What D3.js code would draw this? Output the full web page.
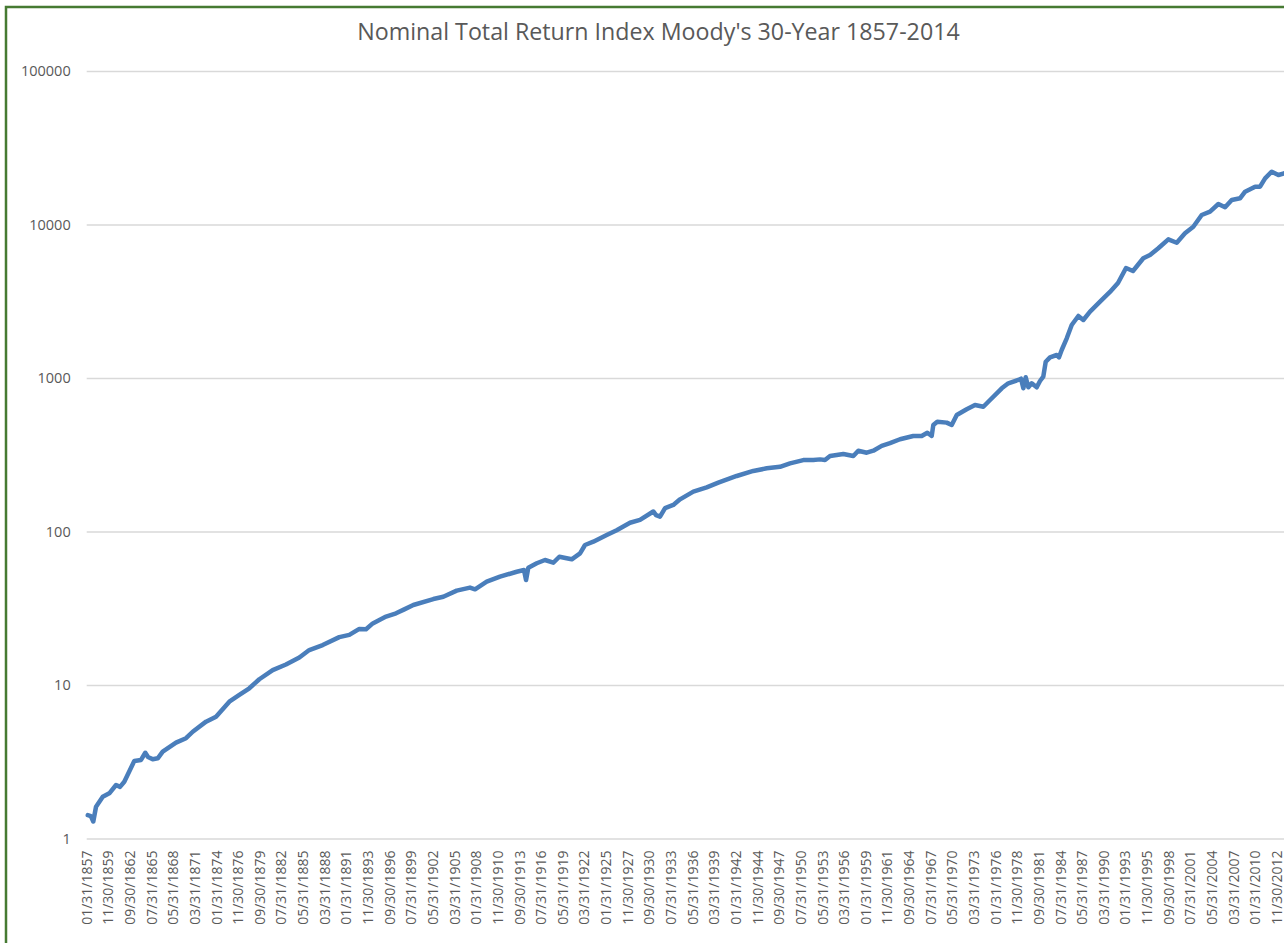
<!DOCTYPE html>
<html>
<head>
<meta charset="utf-8">
<script src="https://cdn.jsdelivr.net/npm/d3@7"></script>
<style>
  body { margin: 0; background: #fff; overflow: hidden; }
  text { font-family: "Open Sans", "DejaVu Sans", sans-serif; fill: #595959; }
</style>
</head>
<body>
<svg class="chart" width="1284" height="943"></svg>
<script>
const title = "Nominal Total Return Index Moody's 30-Year 1857-2014"

// decimal year of each read point, and the index value there
const years = [
  1857.1, 1857.5, 1857.82, 1858.18, 1859.06, 1859.92, 1860.8, 1861.32, 1861.88, 1863.19,
  1864.07, 1864.63, 1864.99, 1865.6, 1866.26, 1866.91, 1868.65, 1869.96, 1870.84, 1872.58,
  1873.89, 1875.63, 1876.94, 1878.25, 1879.56, 1881.31, 1883.05, 1884.8, 1886.1, 1887.86,
  1890.03, 1891.34, 1892.65, 1893.53, 1894.41, 1896.15, 1897.46, 1898.54, 1899.72, 1902.34,
  1903.65, 1905.4, 1907.14, 1907.8, 1909.33, 1911.07, 1913.26, 1914.21, 1914.48, 1914.78,
  1915.88, 1916.96, 1918.05, 1918.84, 1919.8, 1920.46, 1921.55, 1922.2, 1923.29, 1925.04,
  1926.35, 1928.09, 1929.4, 1931.14, 1931.5, 1932.02, 1932.68, 1933.76, 1934.64, 1936.38,
  1938.13, 1939.65, 1942.06, 1944.23, 1945.99, 1947.73, 1949.04, 1950.78, 1952.09, 1952.97,
  1953.62, 1954.28, 1956.02, 1957.33, 1957.98, 1959.08, 1959.95, 1961.04, 1962.13, 1963.44,
  1965.18, 1966.28, 1967.02, 1967.59, 1967.8, 1968.32, 1969.55, 1970.21, 1970.87, 1972.17,
  1973.26, 1974.35, 1975.23, 1976.76, 1977.62, 1978.93, 1979.28, 1979.59, 1979.9, 1980.24,
  1980.68, 1981.34, 1981.77, 1982.2, 1982.52, 1983.08, 1983.96, 1984.26, 1984.61, 1985.27,
  1985.92, 1986.79, 1987.44, 1988.32, 1989.63, 1990.93, 1991.98, 1993.03, 1993.94, 1995.29,
  1996.17, 1997.26, 1998.57, 1999.67, 2000.75, 2001.84, 2002.94, 2004.03, 2005.12, 2006.0,
  2006.87, 2007.96, 2008.62, 2009.93, 2010.58, 2011.24, 2012.11, 2012.98, 2013.72, 2014.9
]
const values = [
  1.42, 1.40, 1.29, 1.61, 1.87, 1.97, 2.23, 2.17, 2.34, 3.20,
  3.25, 3.62, 3.40, 3.28, 3.33, 3.68, 4.21, 4.50, 4.96, 5.77,
  6.22, 7.79, 8.61, 9.52, 10.9, 12.5, 13.6, 15.1, 16.9, 18.2,
  20.5, 21.2, 23.2, 23.1, 25.2, 27.9, 29.3, 31.1, 33.2, 36.3,
  37.6, 41.2, 43.1, 42.0, 47.1, 50.8, 54.7, 56.1, 48.3, 58.1,
  62.1, 65.2, 62.6, 68.5, 66.9, 65.9, 72.1, 81.7, 85.8, 94.9,
  102, 114, 119, 135, 128, 125, 142, 149, 162, 182,
  194, 208, 230, 248, 258, 264, 278, 292, 292, 295,
  292, 310, 320, 310, 336, 326, 336, 361, 376, 399,
  419, 419, 440, 419, 494, 519, 512, 494, 574, 626,
  667, 650, 719, 857, 924, 971, 990, 857, 1011, 870,
  924, 870, 956, 1020, 1277, 1364, 1412, 1364, 1522, 1814,
  2215, 2535, 2388, 2704, 3141, 3634, 4158, 5208, 4979, 6024,
  6328, 6998, 8007, 7609, 8762, 9676, 11533, 12120, 13603, 12946,
  14440, 14815, 16358, 17634, 17634, 19999, 22080, 21015, 21560, 22300
]

const yTicks = [1, 10, 100, 1000, 10000, 100000]

const tickLabels = [
  "01/31/1857", "11/30/1859", "09/30/1862", "07/31/1865", "05/31/1868", "03/31/1871", "01/31/1874",
  "11/30/1876", "09/30/1879", "07/31/1882", "05/31/1885", "03/31/1888", "01/31/1891", "11/30/1893",
  "09/30/1896", "07/31/1899", "05/31/1902", "03/31/1905", "01/31/1908", "11/30/1910", "09/30/1913",
  "07/31/1916", "05/31/1919", "03/31/1922", "01/31/1925", "11/30/1927", "09/30/1930", "07/31/1933",
  "05/31/1936", "03/31/1939", "01/31/1942", "11/30/1944", "09/30/1947", "07/31/1950", "05/31/1953",
  "03/31/1956", "01/31/1959", "11/30/1961", "09/30/1964", "07/31/1967", "05/31/1970", "03/31/1973",
  "01/31/1976", "11/30/1978", "09/30/1981", "07/31/1984", "05/31/1987", "03/31/1990", "01/31/1993",
  "11/30/1995", "09/30/1998", "07/31/2001", "05/31/2004", "03/31/2007", "01/31/2010", "11/30/2012"
]

// month index from Jan 1857
const monthOf = label => {
  const [mm, , yyyy] = label.split('/').map(Number)
  return (yyyy - 1857) * 12 + (mm - 1)
}

const plotLeft = 86.7, plotRight = 1293.5, plotTop = 71, plotBottom = 838.5
const nMonths = 1896

const xScale = d3.scaleLinear([-0.5, nMonths - 0.5], [plotLeft, plotRight])
const yScale = d3.scaleLog([1, 100000], [plotBottom, plotTop])

const svg = d3.select('.chart')

// chart border
svg.append('rect')
    .attr('x', 6)
    .attr('y', 7)
    .attr('width', 1300)
    .attr('height', 960)
    .attr('fill', 'none')
    .attr('stroke', '#467a32')
    .attr('stroke-width', 2.5)

const titleText = svg.append('text')
    .text(title)
    .attr('x', 658.5)
    .attr('y', 40)
    .attr('text-anchor', 'middle')
    .attr('font-size', '22px')
const w = titleText.node().getComputedTextLength()
titleText.attr('font-size', (22 * 603 / w) + 'px')

// gridlines + y labels
const yAxis = d3.axisLeft(yScale)
    .tickValues(yTicks)
    .tickFormat(d3.format('d'))
    .tickSize(-(plotRight - plotLeft))
    .tickPadding(16)
svg.append('g')
    .attr('class', 'y-axis')
    .attr('transform', `translate(${plotLeft},0)`)
    .call(yAxis)
    .call(g => g.select('.domain').remove())
    .call(g => g.selectAll('line').attr('stroke', '#d9d9d9').attr('stroke-width', 1.5))
    .call(g => g.selectAll('text').attr('font-size', '14.5px').attr('fill', '#595959'))

// x labels
const xAxis = d3.axisBottom(xScale)
    .tickValues(tickLabels.map(monthOf))
    .tickFormat((d, i) => tickLabels[i])
    .tickSize(0)
svg.append('g')
    .attr('class', 'x-axis')
    .attr('transform', `translate(0,${plotBottom})`)
    .call(xAxis)
    .call(g => g.select('.domain').remove())
    .call(g => g.selectAll('text')
        .attr('font-size', '14px')
        .attr('fill', '#595959')
        .attr('transform', 'rotate(-90)')
        .attr('text-anchor', 'end')
        .attr('x', -12)
        .attr('y', 0)
        .attr('dy', '0.3em'))

const points = years.map((y, i) => ({ m: (y - 1857) * 12, v: values[i] }))

const line = d3.line()
    .x(d => xScale(d.m))
    .y(d => yScale(d.v))

svg.append('path')
    .datum(points)
    .attr('d', line)
    .attr('fill', 'none')
    .attr('stroke', '#4a7ebb')
    .attr('stroke-width', 4.5)
    .attr('stroke-linejoin', 'round')
    .attr('stroke-linecap', 'round')
</script>
</body>
</html>
